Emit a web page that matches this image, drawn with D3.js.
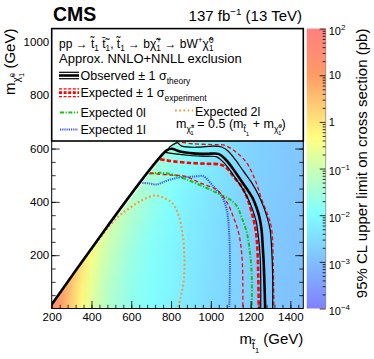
<!DOCTYPE html>
<html>
<head>
<meta charset="utf-8">
<script src="https://cdn.jsdelivr.net/npm/d3@7"></script>
<style>
body { margin: 0; background: #fff; }
svg { font-family: "Liberation Sans", Arial, Helvetica, sans-serif; }
</style>
</head>
<body>
<svg id="chart" width="374" height="359"></svg>
<script>
// limit map: stop mass columns, LSP mass rows (GeV), limit in pb
const mStop = [200, 250, 300, 350, 400, 450, 500, 600, 700, 800, 900, 1000, 1100, 1200, 1300, 1450];
const mLSP = [0, 100, 200, 300, 400, 500, 600, 700];
const xsecLimit = [
  [30, 8, 2.0, 0.5, 0.18, 0.08, 0.04, 0.018, 0.011, 0.007, 0.0045, 0.003, 0.0022, 0.0017, 0.0014, 0.0011],
  [30, 12, 3.0, 0.8, 0.25, 0.1, 0.05, 0.02, 0.012, 0.0075, 0.0048, 0.0032, 0.0023, 0.0018, 0.0014, 0.0011],
  [30, 15, 5, 1.5, 0.4, 0.15, 0.07, 0.025, 0.013, 0.008, 0.005, 0.0034, 0.0024, 0.0018, 0.0015, 0.0012],
  [30, 15, 6, 2, 0.6, 0.25, 0.12, 0.035, 0.016, 0.009, 0.0055, 0.0036, 0.0025, 0.0019, 0.0015, 0.0012],
  [30, 15, 6, 2, 0.8, 0.3, 0.15, 0.06, 0.022, 0.011, 0.006, 0.004, 0.0027, 0.002, 0.0016, 0.0013],
  [30, 15, 6, 2, 0.8, 0.3, 0.15, 0.07, 0.04, 0.015, 0.008, 0.0045, 0.003, 0.0021, 0.0017, 0.0013],
  [30, 15, 6, 2, 0.8, 0.3, 0.15, 0.07, 0.05, 0.025, 0.011, 0.0055, 0.0033, 0.0022, 0.0017, 0.0014],
  [30, 15, 6, 2, 0.8, 0.3, 0.15, 0.07, 0.05, 0.03, 0.02, 0.008, 0.004, 0.0025, 0.0018, 0.0015]
];
// edge of the scanned region (mLSP = mStop - 185)
const gridEdge = [[200, 0], [200, 15], [1235, 1050], [1465, 1050], [1465, 0]];

// contours [mStop, mLSP]
const observed = [[200, 15], [778, 593], [803, 599], [845, 589], [912, 582], [979, 580], [1038, 580], [1072, 561], [1105, 531], [1147, 486], [1181, 449], [1210, 415], [1231, 376], [1245, 340], [1255, 296], [1261, 234], [1266, 171], [1269, 109], [1273, 9], [1273, 0]];
const observedUp = [[788, 603], [811, 615], [832, 621], [854, 609], [930, 605], [1012, 609], [1055, 606], [1088, 590], [1122, 559], [1164, 515], [1206, 471], [1239, 427], [1264, 384], [1284, 340], [1298, 296], [1306, 221], [1311, 121], [1311, 0]];
const observedDown = [[771, 586], [811, 581], [895, 574], [979, 571], [1030, 569], [1063, 549], [1096, 519], [1131, 481], [1164, 444], [1189, 409], [1210, 371], [1228, 327], [1239, 271], [1248, 196], [1251, 109], [1251, 0]];
const expected = [[745, 560], [775, 556], [811, 552], [895, 546], [979, 543], [1047, 540], [1080, 527], [1113, 496], [1147, 465], [1172, 434], [1189, 402], [1206, 359], [1222, 309], [1231, 259], [1236, 196], [1239, 109], [1241, 0]];
const expectedUp = [[800, 640], [815, 626], [838, 625], [908, 618], [1009, 615], [1070, 612], [1131, 584], [1181, 546], [1222, 484], [1256, 409], [1289, 346], [1306, 296], [1314, 171], [1317, 9], [1317, 0]];
const expectedDown = [[694, 509], [727, 505], [807, 500], [868, 497], [949, 470], [1030, 445], [1080, 400], [1115, 340], [1141, 280], [1156, 200], [1161, 100], [1161, 0]];
const expected0l = [[690, 505], [745, 509], [811, 502], [879, 484], [979, 452], [1047, 427], [1096, 409], [1131, 384], [1156, 340], [1181, 284], [1197, 209], [1206, 121], [1206, 0]];
const expected1l = [[656, 471], [694, 469], [728, 465], [770, 477], [829, 490], [895, 494], [930, 496], [963, 496], [1012, 459], [1055, 421], [1080, 371], [1093, 271], [1096, 146], [1093, 0]];
const expected2l = [[200, 15], [518, 333], [594, 378], [661, 409], [722, 424], [772, 412], [807, 395], [838, 350], [858, 280], [868, 180], [863, 100], [848, 40], [833, 0]];

const xMajor = [200, 400, 600, 800, 1000, 1200, 1400];
const yMajor = [200, 400, 600, 800, 1000];
const zDecades = [1e-4, 1e-3, 1e-2, 1e-1, 1, 10, 100];
const zLabels = [["10", "\u22124"], ["10", "\u22123"], ["10", "\u22122"], ["10", "\u22121"], ["1", ""], ["10", ""], ["10", "2"]];

const svg = d3.select("#chart");
const x = d3.scaleLinear().domain([200, 1465]).range([51.7, 303.3]);
const y = d3.scaleLinear().domain([0, 1050]).range([308.5, 28.6]);
const frac = d3.scaleLog().domain([1e-4, 1e2]).range([0, 1]).clamp(true);
const palStops = [0, 0.34, 0.61, 0.84, 1];
const palColors = ["#8080ff", "#80ffff", "#ffff80", "#ff9966", "#ff8080"];
const palette = d3.scaleLinear().domain(palStops).range(palColors);
const color = v => palette(frac(v));

const defs = svg.append("defs");
defs.append("clipPath").attr("id", "frameClip").append("rect")
  .attr("x", x(200)).attr("y", y(1050)).attr("width", x(1465) - x(200)).attr("height", y(0) - y(1050));
defs.append("clipPath").attr("id", "gridClip").append("path")
  .attr("d", d3.line().x(d => x(d[0])).y(d => y(d[1]))(gridEdge) + "Z");

// one horizontal gradient per LSP row
const x0 = x(mStop[0]), span = x(mStop[mStop.length - 1]) - x0;
mLSP.forEach((m, i) => {
  const g = defs.append("linearGradient").attr("id", "row" + i)
    .attr("gradientUnits", "userSpaceOnUse")
    .attr("x1", x0).attr("x2", x0 + span).attr("y1", 0).attr("y2", 0);
  mStop.forEach((s, j) => g.append("stop")
    .attr("offset", (x(s) - x0) / span).attr("stop-color", color(xsecLimit[i][j])));
});
const fade = defs.append("linearGradient").attr("id", "fade")
  .attr("x1", 0).attr("x2", 0).attr("y1", 1).attr("y2", 0);
fade.append("stop").attr("offset", 0).attr("stop-color", "black");
fade.append("stop").attr("offset", 1).attr("stop-color", "white");
defs.append("mask").attr("id", "fadeMask").attr("maskContentUnits", "objectBoundingBox")
  .append("rect").attr("width", 1).attr("height", 1).attr("fill", "url(#fade)");

const map = svg.append("g").attr("clip-path", "url(#frameClip)")
  .append("g").attr("clip-path", "url(#gridClip)");
d3.range(mLSP.length - 1).forEach(i => {
  const top = y(mLSP[i + 1]), bot = y(mLSP[i]);
  map.append("rect").attr("x", x(200)).attr("width", x(1465) - x(200))
    .attr("y", top - 0.4).attr("height", bot - top + 0.8).attr("fill", `url(#row${i})`);
  map.append("rect").attr("x", x(200)).attr("width", x(1465) - x(200))
    .attr("y", top - 0.4).attr("height", bot - top + 0.8).attr("fill", `url(#row${i + 1})`)
    .attr("mask", "url(#fadeMask)");
});
map.append("rect").attr("x", x(200)).attr("width", x(1465) - x(200))
  .attr("y", y(1050)).attr("height", y(mLSP[mLSP.length - 1]) - y(1050))
  .attr("fill", `url(#row${mLSP.length - 1})`);

// contours
const line = d3.line().x(d => x(d[0])).y(d => y(d[1])).curve(d3.curveCatmullRom.alpha(0.5));
const curves = svg.append("g").attr("clip-path", "url(#frameClip)").attr("fill", "none");
const styles = [
  [expected2l, "#f59a40", 2.2, "1.8,2.4"],
  [expected1l, "#3f4ff0", 2, "1.2,1"],
  [expected0l, "#18c018", 2, "4,1.6,1.2,1.6"],
  [expectedUp, "#ff0000", 1.3, "4,2.5"],
  [expectedDown, "#ff0000", 1.3, "4,2.5"],
  [expected, "#ff0000", 2.6, "4.5,2.2"],
  [observedUp, "#000", 1.2, null],
  [observedDown, "#000", 1.2, null],
  [observed, "#000", 2.6, null]
];
styles.forEach(([pts, c, w, dash]) => {
  curves.append("path").attr("d", line(pts)).attr("stroke", c).attr("stroke-width", w)
    .attr("stroke-dasharray", dash).attr("stroke-linejoin", "round");
});

// axes, ticks inward on all sides
const fmt = d3.format("d");
const noDomain = g => g.select(".domain").remove();
const tickStyle = g => g.attr("font-size", 11.5).attr("font-family", null);
svg.append("g").attr("transform", `translate(0,${y(0)})`)
  .call(d3.axisBottom(x).tickValues(xMajor).tickFormat(fmt).tickSize(-7.5).tickPadding(4)).call(noDomain).call(tickStyle);
svg.append("g").attr("transform", `translate(0,${y(0)})`)
  .call(d3.axisBottom(x).tickValues(d3.range(200, 1465, 40)).tickSize(-3.7).tickFormat("")).call(noDomain);
svg.append("g").attr("transform", `translate(${x(200)},0)`)
  .call(d3.axisLeft(y).tickValues(yMajor).tickFormat(fmt).tickSize(-8).tickPadding(2.5)).call(noDomain).call(tickStyle);
svg.append("g").attr("transform", `translate(${x(200)},0)`)
  .call(d3.axisLeft(y).tickValues(d3.range(50, 1050, 50)).tickSize(-4).tickFormat("")).call(noDomain);
svg.append("g").attr("transform", `translate(${x(1465)},0)`)
  .call(d3.axisRight(y).tickValues(yMajor).tickSize(-8).tickFormat("")).call(noDomain);
svg.append("g").attr("transform", `translate(${x(1465)},0)`)
  .call(d3.axisRight(y).tickValues(d3.range(50, 1050, 50)).tickSize(-4).tickFormat("")).call(noDomain);
svg.selectAll(".tick line").attr("stroke", "#000");
svg.append("rect").attr("x", x(200)).attr("y", y(1050)).attr("width", x(1465) - x(200))
  .attr("height", y(0) - y(1050)).attr("fill", "none").attr("stroke", "#000").attr("stroke-width", 1);

// text helper: parts = [text, shift (em, down), scale, dx]
function rich(parent, px, py, size, parts) {
  const t = parent.append("text").attr("x", px).attr("y", py).attr("font-size", size);
  let cur = 0;
  parts.forEach(([s, shift = 0, scale = 1, dx]) => {
    const off = shift * size;
    const ts = t.append("tspan").attr("dy", off - cur).text(s);
    if (scale !== 1) ts.attr("font-size", size * scale);
    if (dx) ts.attr("dx", dx);
    cur = off;
  });
  return t;
}

// colour bar
const zScale = d3.scaleLog().domain([1e-4, 1e2]).range([y(0), y(1050)]);
const cbX = 306.7, cbW = 19;
const cbGrad = defs.append("linearGradient").attr("id", "cbar").attr("x1", 0).attr("x2", 0).attr("y1", 1).attr("y2", 0);
palStops.forEach((s, i) => cbGrad.append("stop").attr("offset", s).attr("stop-color", palColors[i]));
svg.append("rect").attr("x", cbX).attr("y", y(1050)).attr("width", cbW).attr("height", y(0) - y(1050))
  .attr("fill", "url(#cbar)");
const zMinor = [];
zDecades.slice(0, -1).forEach(d => d3.range(2, 10).forEach(k => zMinor.push(d * k)));
svg.append("g").attr("transform", `translate(${cbX + cbW},0)`)
  .call(d3.axisRight(zScale).tickValues(zDecades).tickSize(-6).tickFormat("")).call(noDomain);
svg.append("g").attr("transform", `translate(${cbX + cbW},0)`)
  .call(d3.axisRight(zScale).tickValues(zMinor).tickSize(-3).tickFormat("")).call(noDomain);
svg.selectAll(".tick line").attr("stroke", "#000").attr("stroke-width", 0.8);
svg.append("line").attr("x1", cbX + cbW).attr("x2", cbX + cbW).attr("y1", y(1050)).attr("y2", y(0))
  .attr("stroke", "#666").attr("stroke-width", 0.6);
zDecades.forEach((d, i) => {
  const [base, ex] = zLabels[i];
  const parts = [[base]];
  if (ex) parts.push([ex, -0.45, 0.72]);
  rich(svg, cbX + cbW + 3, zScale(d) + (ex ? 6.8 : 4), 11, parts);
});
rich(svg, 0, 0, 15, [["95% CL upper limit on cross section (pb)"]])
  .attr("text-anchor", "end").attr("transform", `translate(367,${y(1050)}) rotate(-90)`);

// axis titles
const tl = "t\u0303", chi = "\u03c7\u0303";
rich(svg, 0, 0, 15, [["m"], [chi, 0.32, 0.68], ["0", 0.02, 0.5], ["1", 0.58, 0.5, -4], [" (GeV)"]])
  .attr("text-anchor", "end").attr("transform", `translate(15,${y(1050)}) rotate(-90)`);
rich(svg, x(1465), 344, 15, [["m"], [tl, 0.32, 0.68], ["1", 0.6, 0.5], [" (GeV)"]])
  .attr("text-anchor", "end");

// legend
const leg = svg.append("g");
leg.append("rect").attr("x", x(200)).attr("y", y(1050)).attr("width", x(1465) - x(200))
  .attr("height", 141 - y(1050)).attr("fill", "#fff").attr("stroke", "#000").attr("stroke-width", 1.6);
rich(leg, 59, 47.5, 12, [["pp \u2192 " + tl], ["1", 0.3, 0.68], [" t\u0304\u0303"], ["1", 0.3, 0.68],
  [", " + tl], ["1", 0.3, 0.68], [" \u2192 b" + chi], ["1", 0.3, 0.68], ["+", -0.4, 0.68, -4.5],
  [" \u2192 bW"], ["+", -0.4, 0.68], [chi], ["1", 0.3, 0.68], ["0", -0.4, 0.68, -4.5]]);
rich(leg, 59, 63, 13, [["Approx. NNLO+NNLL exclusion"]]);
const sym = (x1, x2, yy, c, w, dash) => leg.append("line").attr("x1", x1).attr("x2", x2)
  .attr("y1", yy).attr("y2", yy).attr("stroke", c).attr("stroke-width", w).attr("stroke-dasharray", dash);
sym(59, 79, 72.3, "#000", 1.2, null); sym(59, 79, 75.5, "#000", 2.6, null); sym(59, 79, 78.7, "#000", 1.2, null);
rich(leg, 80.5, 80, 12.5, [["Observed \u00b1 1 \u03c3"], ["theory", 0.3, 0.68]]);
sym(59, 79, 88.8, "#ff0000", 1.3, "3,1.6"); sym(59, 79, 92.6, "#ff0000", 2.6, "3,1.6"); sym(59, 79, 96.6, "#ff0000", 1.3, "3,1.6");
rich(leg, 80.5, 97, 12.5, [["Expected \u00b1 1 \u03c3"], ["experiment", 0.3, 0.68]]);
sym(60, 78, 112.5, "#18c018", 2, "4,1.6,1.2,1.6");
rich(leg, 80.5, 116.5, 12.5, [["Expected 0l"]]);
sym(60, 78, 129.5, "#3f4ff0", 2, "1.2,1");
rich(leg, 80.5, 133.5, 12.5, [["Expected 1l"]]);
sym(175, 193, 110.5, "#f59a40", 2.2, "1.8,2.4");
rich(leg, 195, 115.5, 12.5, [["Expected 2l"]]);
rich(leg, 176, 128, 12.5, [["m"], [chi, 0.32, 0.68], ["\u00b1", 0.02, 0.5], ["1", 0.58, 0.5, -4],
  [" = 0.5 (m"], [tl, 0.32, 0.68], ["1", 0.6, 0.5], [" + m"], [chi, 0.32, 0.68], ["0", 0.02, 0.5], ["1", 0.58, 0.5, -4], [")"]]);

// header
svg.append("text").attr("x", 53).attr("y", 21).attr("font-size", 19.5).attr("font-weight", "bold").text("CMS");
rich(svg, 302, 21, 15, [["137 fb"], ["\u22121", -0.4, 0.65], [" (13 TeV)", 0]]).attr("text-anchor", "end");
</script>
</body>
</html>
